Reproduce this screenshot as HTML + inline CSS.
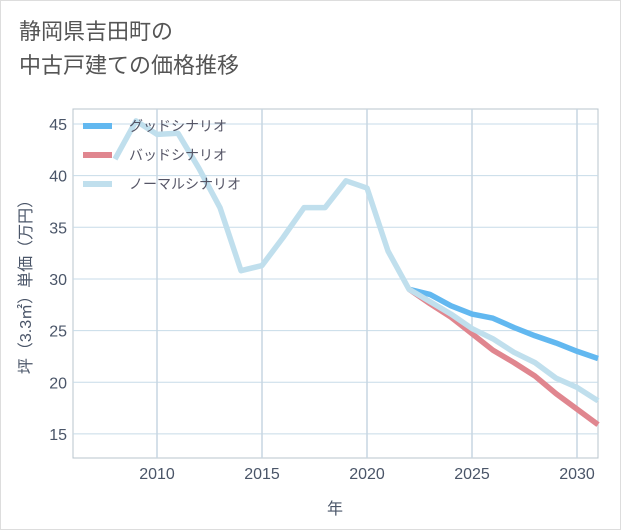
<!DOCTYPE html>
<html><head><meta charset="utf-8"><style>
body{margin:0;background:#fff;}
.wrap{position:relative;width:619px;height:528px;border:1px solid #ddd;background:#fff;font-family:"Liberation Sans","Noto Sans CJK JP",sans-serif;}
.title{position:absolute;left:18px;top:14px;font-size:22px;line-height:34px;color:#555;}
svg text{font-family:"Liberation Sans","Noto Sans CJK JP",sans-serif;}
</style></head><body>
<div class="wrap">
<div class="title">静岡県吉田町の<br>中古戸建ての価格推移</div>
<svg id="c" width="621" height="530" style="position:absolute;left:0;top:0"></svg>
</div>
<script>
const years=[2008,2009,2010,2011,2012,2013,2014,2015,2016,2017,2018,2019,2020,2021,2022];
const normalHist=[41.6,45.3,44.0,44.1,40.7,36.9,30.8,31.3,34.0,36.9,36.9,39.5,38.8,32.7,29.0];
const futureYears=[2022,2023,2024,2025,2026,2027,2028,2029,2030,2031];
const good=[29.0,28.5,27.4,26.6,26.2,25.3,24.5,23.8,23.0,22.3];
const bad=[29.0,27.6,26.3,24.7,23.1,21.9,20.6,18.9,17.4,15.9];
const normal=[29.0,27.8,26.6,25.2,24.2,22.9,21.9,20.4,19.5,18.2];
const xTicks=[2010,2015,2020,2025,2030];
const yTicks=[15,20,25,30,35,40,45];
const NS="http://www.w3.org/2000/svg";
const svg=document.getElementById('c');
const L=72,R=597,T=108,B=457;
const x=v=>L+(v-2006)*(R-L)/25;
const y=v=>123+(45-v)*10.33;
function mk(t,a,p){const e=document.createElementNS(NS,t);for(const k in a)e.setAttribute(k,a[k]);(p||svg).appendChild(e);return e;}
mk('rect',{x:L,y:T,width:R-L,height:B-T,fill:'none',stroke:'#b8c4cc'});
yTicks.forEach(v=>{
 const l=mk('line',{x1:L,x2:R,y1:y(v),y2:y(v),stroke:'#c7dbe8','stroke-width':1});
 
 
 const t=mk('text',{x:L-6,y:y(v)+6,'text-anchor':'end','font-size':16,fill:'#4a5568'});t.textContent=v;
 
 
});
xTicks.forEach(v=>{
 const l=mk('line',{x1:x(v),x2:x(v),y1:T,y2:B,stroke:'#c7d6e2','stroke-width':1.5});
 
 
 const t=mk('text',{x:x(v),y:478,'text-anchor':'middle','font-size':16,fill:'#4a5568'});t.textContent=v;
 
 
});
const xt=mk('text',{x:334,y:513,'text-anchor':'middle','font-size':16,fill:'#4a5568'});xt.textContent='年';


const yt=mk('text',{x:0,y:0,'text-anchor':'middle','font-size':16,fill:'#4a5568',transform:'translate(30,282) rotate(-90)'});yt.textContent='坪（3.3㎡）単価（万円）';


function line(xs,vs,col,name){
 const p=mk('polyline',{points:xs.map((a,i)=>x(a)+','+y(vs[i])).join(' '),fill:'none',stroke:col,'stroke-width':5.5,'stroke-linejoin':'round'});
 
 
}
line(futureYears,good,'#62b8f0','good-scenario-line');
line(futureYears,bad,'#e0868f','bad-scenario-line');
line(years.concat(futureYears.slice(1)),normalHist.concat(normal.slice(1)),'#c0dfed','normal-scenario-line');
const leg=[['グッドシナリオ','#62b8f0'],['バッドシナリオ','#e0868f'],['ノーマルシナリオ','#c0dfed']];
leg.forEach((d,i)=>{
 const g=mk('g',{});
 
 
 mk('line',{x1:82,x2:111,y1:125+i*29,y2:125+i*29,stroke:d[1],'stroke-width':6},g);
 const t=mk('text',{x:128,y:130+i*29,'font-size':14,fill:'#556'},g);t.textContent=d[0];
});
</script>
</body></html>
